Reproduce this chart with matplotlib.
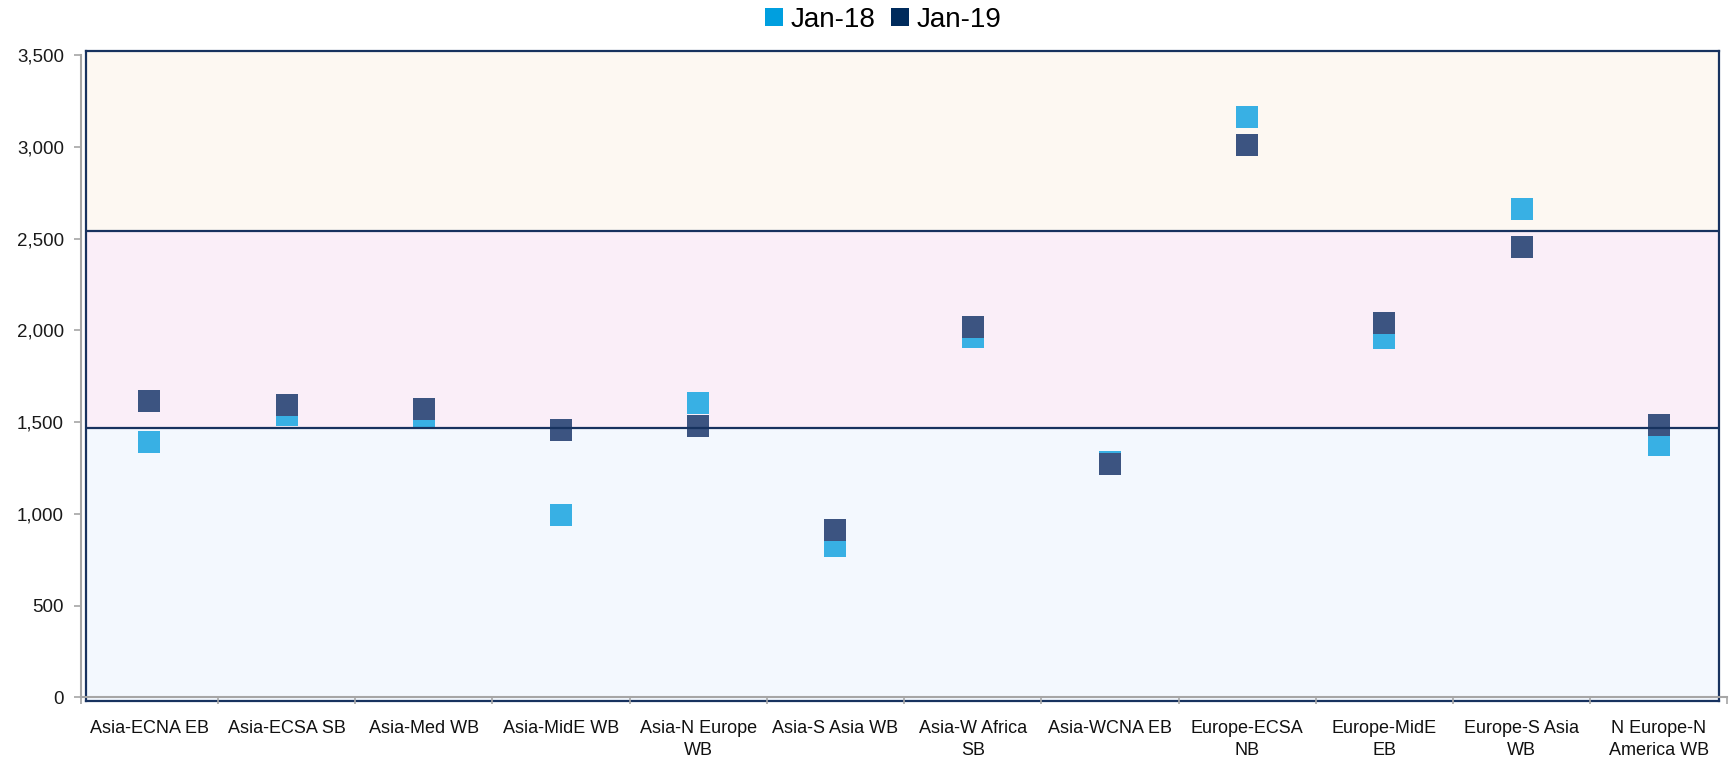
#!/usr/bin/env python3
"""Route rates for Jan-18 vs Jan-19, drawn as square markers over banded ranges."""

import matplotlib

matplotlib.use("Agg")
import matplotlib.pyplot as plt
from matplotlib.lines import Line2D
import numpy as np


ROUTES = [
    "Asia-ECNA EB",
    "Asia-ECSA SB",
    "Asia-Med WB",
    "Asia-MidE WB",
    "Asia-N Europe\nWB",
    "Asia-S Asia WB",
    "Asia-W Africa\nSB",
    "Asia-WCNA EB",
    "Europe-ECSA\nNB",
    "Europe-MidE\nEB",
    "Europe-S Asia\nWB",
    "N Europe-N\nAmerica WB",
]
JAN18 = [1391, 1538, 1528, 993, 1604, 825, 1963, 1282, 3163, 1958, 2662, 1375]
JAN19 = [1615, 1593, 1571, 1457, 1479, 912, 2018, 1270, 3010, 2040, 2454, 1484]
BAND_EDGES = [1470, 2540]
Y_TICKS = list(range(0, 3501, 500))

COL_18 = "#009FDF"
COL_19 = "#002B5C"
MARK_18 = "#38B0E4"
MARK_19 = "#3C5481"
NAVY = "#17325F"
GREY = "#A6A6A6"
BAND_COLORS = ["#F3F8FE", "#FAEEF8", "#FDF8F2"]

FONT = ["Liberation Sans", "DejaVu Sans"]

W, H = 1729, 762


def frac(x0, y0, x1, y1):
    # pixel box (top-left origin) -> figure fraction rect
    return [x0 / W, 1 - y1 / H, (x1 - x0) / W, (y1 - y0) / H]


fig = plt.figure(figsize=(W / 100, H / 100), dpi=100)

# value axes: category axis from x=80.7 to 1727.5, y from 0 (697.3) to 3500 (55.1)
ax_px = (80.7, 55.1, 1727.5, 697.3)
box_px = (86.0, 51.0, 1719.0, 700.7)
n = len(ROUTES)
ymax = Y_TICKS[-1]
upp = ymax / (ax_px[3] - ax_px[1])
cpp = n / (ax_px[2] - ax_px[0])

# framed plot area with the coloured bands, slightly inset from the axis lines
box = fig.add_axes(frac(*box_px), zorder=0)
bx0 = -0.5 + (box_px[0] - ax_px[0]) * cpp
bx1 = n - 0.5 - (ax_px[2] - box_px[2]) * cpp
box.set_xlim(bx0, bx1)
box.set_ylim(-(box_px[3] - ax_px[3]) * upp, ymax + (ax_px[1] - box_px[1]) * upp)
lo, hi = box.get_ylim()
edges = [lo] + BAND_EDGES + [hi]
for (a, b), c in zip(zip(edges[:-1], edges[1:]), BAND_COLORS):
    box.axhspan(a, b, color=c, lw=0, zorder=0)
for s in box.spines.values():
    s.set_color(NAVY)
    s.set_linewidth(1.6)
box.set_xticks([])
box.set_yticks([])

ax = fig.add_axes(frac(*ax_px), zorder=1)
ax.set_facecolor("none")
ax.set_xlim(-0.5, n - 0.5)
ax.set_ylim(0, ymax)

x = np.arange(n)
ax.plot(x, JAN18, ls="none", marker="s", ms=15.8, mew=0, color=MARK_18, zorder=2, clip_on=False)
ax.plot(x, JAN19, ls="none", marker="s", ms=15.8, mew=0, color=MARK_19, zorder=3, clip_on=False)
# band boundaries sit on top of the markers
ax.hlines(BAND_EDGES, bx0, bx1, color=NAVY, lw=1.6, zorder=4, clip_on=False)

for side in ("top", "right"):
    ax.spines[side].set_visible(False)
for side in ("left", "bottom"):
    ax.spines[side].set_color(GREY)
    ax.spines[side].set_linewidth(1.5)

ax.set_yticks(Y_TICKS)
ax.set_yticklabels([f"{v:,}" for v in Y_TICKS], family=FONT, fontsize=13.5, color="#1a1a1a")
ax.tick_params(axis="y", direction="out", length=5, width=1.2, color=GREY, pad=7)

ax.set_xticks(x)
ax.set_xticklabels(ROUTES, family=FONT, fontsize=13, color="#111111", linespacing=1.45, va="top")
ax.set_xticks(np.arange(n + 1) - 0.5, minor=True)
ax.tick_params(axis="x", which="major", length=0, pad=16)
ax.tick_params(axis="x", which="minor", direction="out", length=5, width=1.2, color=GREY)

handles = [
    Line2D([], [], ls="none", marker="s", ms=13, mew=0, color=COL_18, label="Jan-18"),
    Line2D([], [], ls="none", marker="s", ms=13, mew=0, color=COL_19, label="Jan-19"),
]
fig.legend(
    handles=handles,
    loc="center",
    bbox_to_anchor=(0.511, 0.974),
    ncol=2,
    frameon=False,
    prop={"family": FONT, "size": 20},
    handlelength=0.6,
    handletextpad=0.3,
    columnspacing=0.6,
    borderaxespad=0,
)

fig.savefig("out.png", dpi=100, facecolor="white")
plt.close(fig)
